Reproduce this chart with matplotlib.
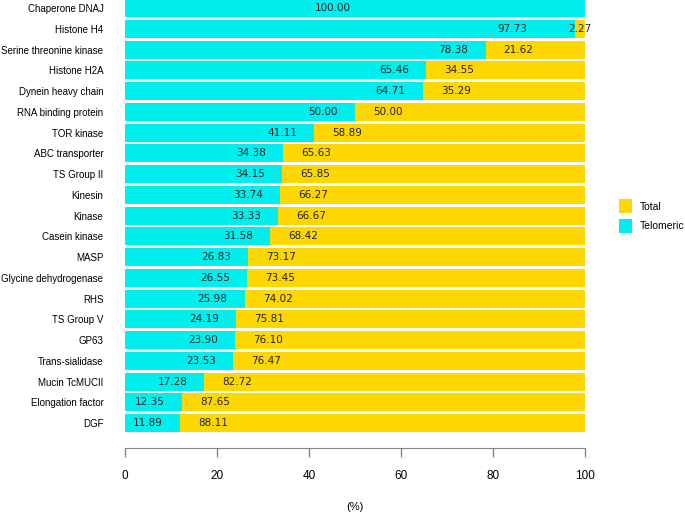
import matplotlib
matplotlib.use("Agg")
import matplotlib.pyplot as plt
from matplotlib.patches import Patch

categories = ["Chaperone DNAJ", "Histone H4", "Serine threonine kinase", "Histone H2A",
              "Dynein heavy chain", "RNA binding protein", "TOR kinase", "ABC transporter",
              "TS Group II", "Kinesin", "Kinase", "Casein kinase", "MASP",
              "Glycine dehydrogenase", "RHS", "TS Group V", "GP63", "Trans-sialidase",
              "Mucin TcMUCII", "Elongation factor", "DGF"]
telomeric = [100.00, 97.73, 78.38, 65.46, 64.71, 50.00, 41.11, 34.38, 34.15, 33.74, 33.33,
             31.58, 26.83, 26.55, 25.98, 24.19, 23.90, 23.53, 17.28, 12.35, 11.89]
total = [0.00, 2.27, 21.62, 34.55, 35.29, 50.00, 58.89, 65.63, 65.85, 66.27, 66.67,
         68.42, 73.17, 73.45, 74.02, 75.81, 76.10, 76.47, 82.72, 87.65, 88.11]

CYAN = "#00EEEE"
GOLD = "#FFD700"
FONT = "Liberation Sans"

fig = plt.figure(figsize=(6.85, 5.17), dpi=100)
ax = fig.add_axes([125/685, 1 - 448/517, 460/685, 448/517])

ypos = list(range(len(categories)))
ax.barh(ypos, telomeric, height=0.87, color=CYAN, edgecolor="none")
ax.barh(ypos, total, left=telomeric, height=0.87, color=GOLD, edgecolor="none")

for i, (t, o) in enumerate(zip(telomeric, total)):
    if o <= 0:
        ax.text(45.2, i, f"{t:.2f}", ha="center", va="center", fontsize=7.5,
                family="DejaVu Sans", color="#222222")
        continue
    if o < 5:
        tx = t - 13.5
        ox = t + o / 2
    else:
        tx = t - 7.0
        ox = t + 7.2
    ax.text(tx, i, f"{t:.2f}", ha="center", va="center", fontsize=7.5,
            family="DejaVu Sans", color="#222222")
    ax.text(ox, i, f"{o:.2f}", ha="center", va="center", fontsize=7.5,
            family="DejaVu Sans", color="#222222")

ax.set_ylim(21.2, -0.39)
ax.set_xlim(0, 100)
ax.set_yticks(ypos)
ax.set_yticklabels(categories, family=FONT, fontsize=7)
ax.tick_params(axis="y", length=0, pad=15.5)
ax.set_xticks([0, 20, 40, 60, 80, 100])
ax.set_xticklabels(["0", "20", "40", "60", "80", "100"], family=FONT, fontsize=8.5)
ax.tick_params(axis="x", length=6.5, width=1, color="#888888", pad=9.5)
for s in ["top", "right", "left"]:
    ax.spines[s].set_visible(False)
ax.spines["bottom"].set_color("#888888")
ax.set_xlabel("(%)", family=FONT, fontsize=8, labelpad=14)

handles = [Patch(facecolor=GOLD, edgecolor="none", label="Total"),
           Patch(facecolor=CYAN, edgecolor="none", label="Telomeric")]
fig.legend(handles=handles, loc="center left", bbox_to_anchor=(610/685, 1 - 216/517),
           frameon=False, prop={"family": FONT, "size": 7.5},
           handlelength=1.2, handleheight=1.7, handletextpad=0.8, labelspacing=0.5)

fig.savefig("out.png", dpi=100)
